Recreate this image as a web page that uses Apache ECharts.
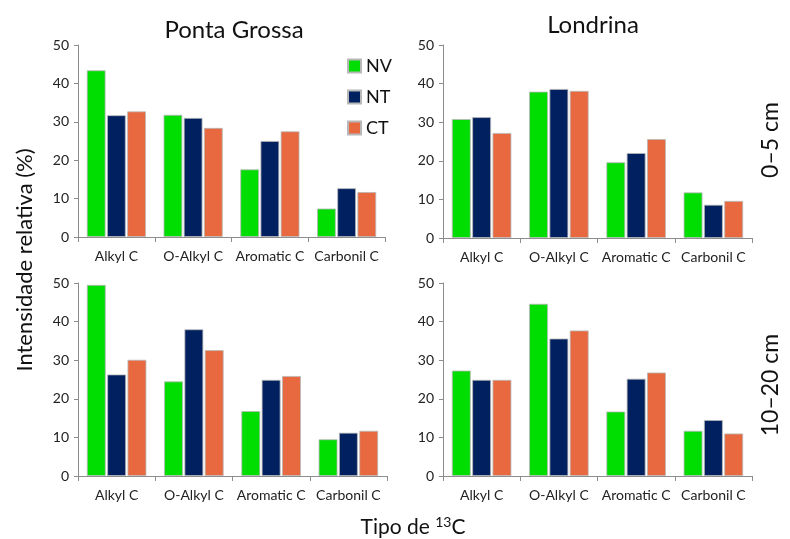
<!DOCTYPE html>
<html><head><meta charset="utf-8">
<script src="https://cdn.jsdelivr.net/npm/echarts@6/dist/echarts.min.js"></script>
<style>html,body{margin:0;padding:0;background:#fff}#c{width:790px;height:539px}</style>
</head><body><div id="c"></div>
<script>
const categories = ['Alkyl C', 'O-Alkyl C', 'Aromatic C', 'Carbonil C'];
const seriesNames = ['NV', 'NT', 'CT'];
const yTicks = [0, 10, 20, 30, 40, 50];
// Ponta Grossa 0–5 cm
const pg05_NV = [43.4, 31.8, 17.6, 7.4];
const pg05_NT = [31.7, 31.0, 25.0, 12.7];
const pg05_CT = [32.7, 28.4, 27.5, 11.7];
// Londrina 0–5 cm
const lo05_NV = [30.8, 37.9, 19.6, 11.8];
const lo05_NT = [31.3, 38.6, 22.0, 8.6];
const lo05_CT = [27.2, 38.1, 25.6, 9.6];
// Ponta Grossa 10–20 cm
const pg1020_NV = [49.5, 24.5, 16.8, 9.5];
const pg1020_NT = [26.3, 38.0, 24.9, 11.2];
const pg1020_CT = [30.1, 32.6, 25.9, 11.7];
// Londrina 10–20 cm
const lo1020_NV = [27.3, 44.6, 16.7, 11.7];
const lo1020_NT = [24.9, 35.6, 25.2, 14.5];
const lo1020_CT = [24.9, 37.7, 26.8, 11.0];

const panels = [
  [pg05_NV, pg05_NT, pg05_CT],
  [lo05_NV, lo05_NT, lo05_CT],
  [pg1020_NV, pg1020_NT, pg1020_CT],
  [lo1020_NV, lo1020_NT, lo1020_CT]
];
const colors = ['#00dd00', '#002060', '#e8693f'];
const FONT = 'Lato';
const grids = [
  {left: 78, top: 45, width: 307, height: 192},
  {left: 443, top: 45, width: 309, height: 193},
  {left: 78, top: 283, width: 309, height: 193},
  {left: 443, top: 283, width: 309, height: 193}
];
const axisLine = {show: true, lineStyle: {color: '#8c8c8c', width: 1}};
const xAxis = grids.map((g, i) => ({
  type: 'category', gridIndex: i, data: categories,
  axisLine, axisTick: {show: true, length: 5, lineStyle: {color: '#8c8c8c'}},
  axisLabel: {interval: 0, fontFamily: FONT, fontSize: 14, color: '#222', margin: 12}
}));
const yAxis = grids.map((g, i) => ({
  type: 'value', gridIndex: i, min: yTicks[0], max: yTicks[yTicks.length - 1], interval: 10,
  axisLine, axisTick: {show: true, length: 4, lineStyle: {color: '#8c8c8c'}},
  splitLine: {show: false},
  axisLabel: {fontFamily: FONT, fontSize: 14, color: '#222', margin: 9}
}));
const series = [];
panels.forEach((p, i) => {
  p.forEach((vals, k) => {
    series.push({
      type: 'bar', name: seriesNames[k], xAxisIndex: i, yAxisIndex: i, data: vals,
      barGap: '8%', barCategoryGap: '23%',
      itemStyle: {color: colors[k], borderColor: '#b8b8b8', borderWidth: 0.8},
      emphasis: {disabled: true}
    });
  });
});
const chart = echarts.init(document.getElementById('c'), null, {renderer: 'canvas'});
chart.setOption({
  animation: false,
  backgroundColor: '#fff',
  grid: grids,
  xAxis, yAxis, series,
  legend: {
    data: seriesNames, orient: 'vertical', left: 342, top: 52,
    itemWidth: 13, itemHeight: 13, itemGap: 13, icon: 'rect',
    textStyle: {fontFamily: FONT, fontSize: 18, color: '#111'}
  },
  graphic: [
    {type: 'text', x: 234, y: 30, style: {text: 'Ponta Grossa', fontFamily: FONT, fontSize: 24, fill: '#111', align: 'center', verticalAlign: 'middle'}},
    {type: 'text', x: 593, y: 25, style: {text: 'Londrina', fontFamily: FONT, fontSize: 24, fill: '#111', align: 'center', verticalAlign: 'middle'}},
    {type: 'text', rotation: Math.PI / 2, x: 771, y: 140, style: {text: '0–5 cm', fontFamily: FONT, fontSize: 23, fill: '#111', align: 'center', verticalAlign: 'middle'}},
    {type: 'text', rotation: Math.PI / 2, x: 771, y: 385, style: {text: '10–20 cm', fontFamily: FONT, fontSize: 23, fill: '#111', align: 'center', verticalAlign: 'middle'}},
    {type: 'text', rotation: Math.PI / 2, x: 25, y: 260, style: {text: 'Intensidade relativa (%)', fontFamily: FONT, fontSize: 22, fill: '#111', align: 'center', verticalAlign: 'middle'}},
    {type: 'text', x: 413, y: 527, style: {text: 'Tipo de {s|13}C', rich: {s: {fontSize: 14, fontFamily: FONT, fill: '#111', padding: [0, 0, 9, 0]}}, fontFamily: FONT, fontSize: 21, fill: '#111', align: 'center', verticalAlign: 'middle'}}
  ]
});
</script></body></html>
